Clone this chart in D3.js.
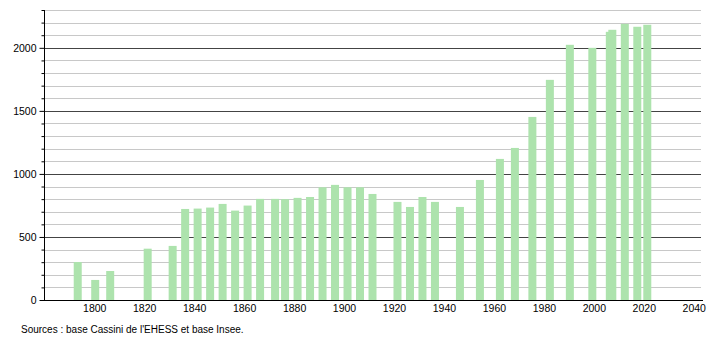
<!DOCTYPE html>
<html>
<head>
<meta charset="utf-8">
<title>Population</title>
<script src="https://d3js.org/d3.v7.min.js"></script>
<style>
body { margin: 0; background: #fff; }
text { font-family: "Liberation Sans", Arial, sans-serif; font-size: 10.5px; fill: #000; }
</style>
</head>
<body>
<script>

// census years and population
var years = [1793,1800,1806,1821,1831,1836,1841,1846,1851,1856,
             1861,1866,1872,1876,1881,1886,1891,1896,1901,1906,
             1911,1921,1926,1931,1936,1946,1954,1962,1968,1975,
             1982,1990,1999,2006,2007,2012,2017,2021];
var population = [301,159,230,407,429,722,725,733,762,709,
                  749,802,802,800,810,817,894,913,894,894,
                  841,778,738,817,778,738,952,1119,1206,1452,
                  1746,2024,2000,2127,2143,2190,2167,2183];

var xTicks = [1800,1820,1840,1860,1880,1900,1920,1940,1960,1980,2000,2020,2040];
var yTicks = [0,500,1000,1500,2000];
var source = "Sources : base Cassini de l'EHESS et base Insee.";

var W = 710, H = 340;
var svg = d3.select("body").append("svg").attr("width", W).attr("height", H);

var x = d3.scaleLinear().domain([1779.5, 2042.5]).range([44, 701]);
var y = d3.scaleLinear().domain([0, 2300]).range([300, 10]);

// grid lines every 100, darker every 500
var grid = d3.range(100, 2301, 100);
svg.append("g").selectAll("line")
  .data(grid)
  .enter().append("line")
  .attr("x1", 44).attr("x2", 701)
  .attr("y1", function(d){ return Math.round(y(d)) + 0.5; })
  .attr("y2", function(d){ return Math.round(y(d)) + 0.5; })
  .style("stroke", function(d){ return d % 500 == 0 ? "#444" : "#c8c8c8"; })
  .style("stroke-width", 1);

// bars
svg.append("g").selectAll("rect")
  .data(years)
  .enter().append("rect")
  .attr("x", function(d){ return x(d) - 4; })
  .attr("width", 8)
  .attr("y", function(d, i){ return y(population[i]); })
  .attr("height", function(d, i){ return y(0) - y(population[i]); })
  .style("fill", "#ade3ad");

// y axis
var yAxis = d3.axisLeft(y).tickValues(grid.concat([0])).tickSize(3).tickFormat(function(d){
  return yTicks.indexOf(d) >= 0 ? d : "";
});
var gy = svg.append("g").attr("transform", "translate(44.5,0)").call(yAxis);
gy.select(".domain").remove();
gy.selectAll(".tick line").attr("x2", function(d){ return d % 500 == 0 ? -5 : -3; }).style("stroke", "#000");
gy.selectAll(".tick text").attr("x", -8).style("font-family", "Liberation Sans, Arial, sans-serif").style("font-size", "10.5px");
svg.append("line").attr("x1", 44.5).attr("x2", 44.5).attr("y1", 10).attr("y2", 300).style("stroke", "#000");

// x axis
var xAxis = d3.axisBottom(x).tickValues(xTicks).tickSize(0).tickFormat(d3.format("d"));
var gx = svg.append("g").attr("transform", "translate(-1,300.5)").call(xAxis);
gx.select(".domain").remove();
gx.selectAll(".tick text").attr("y", 4).attr("dy", "0.71em").style("font-family", "Liberation Sans, Arial, sans-serif").style("font-size", "10.5px");
svg.append("line").attr("x1", 40).attr("x2", 703).attr("y1", 300.5).attr("y2", 300.5).style("stroke", "#000");

svg.append("text").attr("x", 21).attr("y", 333).style("font-size", "10px").text(source);

</script>
</body>
</html>
